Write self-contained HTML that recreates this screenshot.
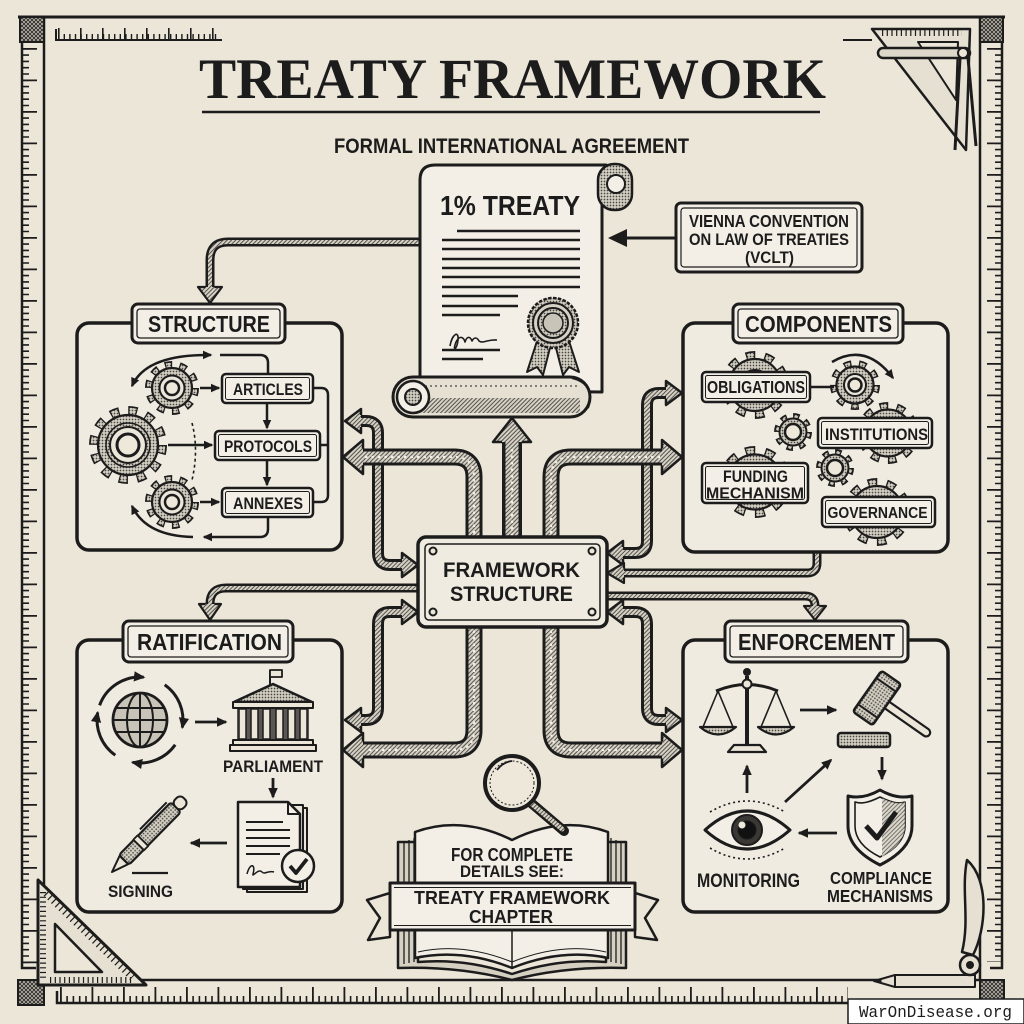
<!DOCTYPE html>
<html><head><meta charset="utf-8">
<style>
html,body{margin:0;padding:0;background:#ece6d8;}
svg{display:block;}
text{font-family:"Liberation Sans",Arial,sans-serif;font-weight:bold;fill:#1c1c1c;}
.k{stroke:#1c1c1c;fill:none;}
</style></head><body>
<svg width="1024" height="1024" viewBox="0 0 1024 1024" xmlns="http://www.w3.org/2000/svg">
<defs>
<pattern id="st" width="3" height="3" patternUnits="userSpaceOnUse"><rect width="3" height="3" fill="#d3cec2"/><circle cx="1.5" cy="1.5" r="0.85" fill="#4a4742"/></pattern>
<pattern id="hp" width="3" height="3" patternUnits="userSpaceOnUse" patternTransform="rotate(45)"><rect width="3" height="3" fill="#d6d1c5"/><rect width="1" height="3" fill="#55524c"/></pattern>
<pattern id="xh" width="4" height="4" patternUnits="userSpaceOnUse"><rect width="4" height="4" fill="#bdb7aa"/><path d="M0,4 L4,0 M0,0 L4,4" stroke="#2a2a2a" stroke-width="0.9"/></pattern>
<marker id="a" viewBox="0 0 10 10" refX="8.5" refY="5" markerWidth="3.8" markerHeight="3.8" orient="auto-start-reverse"><path d="M0,0.5 L10,5 L0,9.5 Z" fill="#1c1c1c"/></marker>

<g id="g26">
<circle r="23" fill="none" stroke="#1c1c1c" stroke-width="8" stroke-dasharray="7.226 7.226"/>
<circle r="23" fill="none" stroke="url(#st)" stroke-width="4.5" stroke-dasharray="4.726 9.726" stroke-dashoffset="-1.25"/>
<circle r="20" fill="url(#st)" stroke="#1c1c1c" stroke-width="2.2"/>
<circle r="12.5" fill="#ebe6da" stroke="#1c1c1c" stroke-width="2"/>
<circle r="7" fill="#eee8db" stroke="#1c1c1c" stroke-width="2.5"/>
</g>
<g id="g38">
<circle r="34" fill="none" stroke="#1c1c1c" stroke-width="10" stroke-dasharray="8.901 8.901"/>
<circle r="34" fill="none" stroke="url(#st)" stroke-width="6.5" stroke-dasharray="6.401 11.401" stroke-dashoffset="-1.25"/>
<circle r="30" fill="url(#st)" stroke="#1c1c1c" stroke-width="2.2"/>
<circle r="22" fill="none" stroke="#1c1c1c" stroke-width="1.5"/>
<circle r="18" fill="#ebe6da" stroke="#1c1c1c" stroke-width="2"/>
<circle r="11" fill="#eee8db" stroke="#1c1c1c" stroke-width="3"/>
</g>
<g id="g33">
<circle r="29.5" fill="none" stroke="#1c1c1c" stroke-width="9" stroke-dasharray="9.27 9.27"/>
<circle r="29.5" fill="none" stroke="url(#st)" stroke-width="5.5" stroke-dasharray="6.77 11.77" stroke-dashoffset="-1.25"/>
<circle r="26" fill="url(#st)" stroke="#1c1c1c" stroke-width="2.2"/>
<circle r="15" fill="#ebe6da" stroke="#1c1c1c" stroke-width="2"/>
<circle r="9" fill="#eee8db" stroke="#1c1c1c" stroke-width="2.5"/>
</g>
<g id="g24">
<circle r="21.25" fill="none" stroke="#1c1c1c" stroke-width="7.5" stroke-dasharray="7.418 7.418"/>
<circle r="21.25" fill="none" stroke="url(#st)" stroke-width="4" stroke-dasharray="4.918 9.918" stroke-dashoffset="-1.25"/>
<circle r="18.5" fill="url(#st)" stroke="#1c1c1c" stroke-width="2.2"/>
<circle r="11" fill="#ebe6da" stroke="#1c1c1c" stroke-width="2"/>
<circle r="6.5" fill="#eee8db" stroke="#1c1c1c" stroke-width="2.5"/>
</g>
<g id="g30">
<circle r="26.75" fill="none" stroke="#1c1c1c" stroke-width="8.5" stroke-dasharray="8.405 8.405"/>
<circle r="26.75" fill="none" stroke="url(#st)" stroke-width="5" stroke-dasharray="5.905 10.905" stroke-dashoffset="-1.25"/>
<circle r="23.5" fill="url(#st)" stroke="#1c1c1c" stroke-width="2.2"/>
<circle r="14" fill="#ebe6da" stroke="#1c1c1c" stroke-width="2"/>
<circle r="8" fill="#eee8db" stroke="#1c1c1c" stroke-width="2.5"/>
</g>
<g id="g18">
<circle r="15.75" fill="none" stroke="#1c1c1c" stroke-width="6.5" stroke-dasharray="6.185 6.185"/>
<circle r="15.75" fill="none" stroke="url(#st)" stroke-width="3" stroke-dasharray="3.685 8.685" stroke-dashoffset="-1.25"/>
<circle r="13.5" fill="url(#st)" stroke="#1c1c1c" stroke-width="2"/>
<circle r="8" fill="#eee8db" stroke="#1c1c1c" stroke-width="2.5"/>
</g>
<g id="g35">
<circle r="31.25" fill="none" stroke="#1c1c1c" stroke-width="9.5" stroke-dasharray="9.817 9.817"/>
<circle r="31.25" fill="none" stroke="url(#st)" stroke-width="6" stroke-dasharray="7.317 12.317" stroke-dashoffset="-1.25"/>
<circle r="27.5" fill="url(#st)" stroke="#1c1c1c" stroke-width="2.2"/>
<circle r="16" fill="#ebe6da" stroke="#1c1c1c" stroke-width="2"/>
<circle r="9" fill="#eee8db" stroke="#1c1c1c" stroke-width="2.5"/>
</g>
</defs>

<rect width="1024" height="1024" fill="#ece6d8"/>

<!-- FRAME -->
<g class="k">
<path d="M18,17 H1005" stroke-width="3"/>
<path d="M44,17 V981" stroke-width="2.5"/>
<path d="M980,17 V981" stroke-width="2.5"/>
<path d="M44,980 H980" stroke-width="2.5"/>
<path d="M22,42 V968 H36" stroke-width="2.5"/>
<path d="M25.5,48 V966" stroke-width="7" stroke-dasharray="1.6 4.7"/>
<path d="M29.5,48 V966" stroke-width="15" stroke-dasharray="1.8 29.7"/>
<path d="M1002,42 V968 H990" stroke-width="2.5"/>
<path d="M998.5,48 V962" stroke-width="7" stroke-dasharray="1.6 4.7"/>
<path d="M994.5,48 V962" stroke-width="15" stroke-dasharray="1.8 29.7"/>
<path d="M57,991 V1003 H850" stroke-width="2.5"/>
<path d="M60,999.5 H848" stroke-width="7" stroke-dasharray="1.6 4.7"/>
<path d="M60,995 H848" stroke-width="16" stroke-dasharray="1.8 29.7"/>
<path d="M56,29 V40 H222" stroke-width="2"/>
<path d="M58,37 H220" stroke-width="6" stroke-dasharray="1.4 4.2"/>
<path d="M58,34 H220" stroke-width="12" stroke-dasharray="1.6 20.4"/>
<path d="M843,40 H872" stroke-width="2"/>
</g>
<rect x="20" y="17" width="24" height="25" fill="url(#xh)" stroke="#1c1c1c" stroke-width="2"/>
<rect x="980" y="17" width="23" height="25" fill="url(#xh)" stroke="#1c1c1c" stroke-width="2"/>
<rect x="18" y="980" width="26" height="25" fill="url(#xh)" stroke="#1c1c1c" stroke-width="2"/>
<rect x="980" y="980" width="24" height="22" fill="url(#xh)" stroke="#1c1c1c" stroke-width="2"/>

<!-- top-right set square + compass -->
<g stroke="#1c1c1c" stroke-linejoin="round">
<polygon points="872,29 970,29 966,150" fill="#e6e0d2" stroke-width="2.5"/>
<polygon points="918,42 958,42 956,100" fill="#ece6d8" stroke-width="2"/>
<path d="M882,33 H962" stroke-width="6" stroke-dasharray="1.2 3.5" fill="none"/>
<path d="M960,58 L955,150" stroke-width="3" fill="none"/>
<path d="M968,58 L976,146" stroke-width="3" fill="none"/>
<rect x="878" y="48" width="92" height="10" rx="5" fill="#ddd7ca" stroke-width="2.5"/>
<circle cx="963" cy="53" r="5" fill="#ece6d8" stroke-width="2"/>
</g>

<!-- bottom-left set square -->
<g stroke="#1c1c1c" stroke-linejoin="round">
<polygon points="38,880 38,985 146,985" fill="#e6e0d2" stroke-width="3"/>
<polygon points="55,924 55,972 102,972" fill="#ece6d8" stroke-width="2.5"/>
<path d="M43,892 V978" stroke-width="6" stroke-dasharray="1.2 3.5" fill="none"/>
<path d="M50,980 H132" stroke-width="6" stroke-dasharray="1.2 3.5" fill="none"/>
<path d="M46,893.4 L132.4,977.4" stroke-width="7" stroke-dasharray="1.2 4" fill="none"/>
</g>

<!-- bottom-right compass -->
<g stroke="#1c1c1c" stroke-linejoin="round">
<path d="M967,860 C990,880 986,930 973,955 L962,952 C970,920 961,890 967,860 Z" fill="#e6e0d2" stroke-width="2.5"/>
<polygon points="874,981 895,975 895,987" fill="#e6e0d2" stroke-width="2"/>
<polygon points="874,981 881,979 881,983" fill="#1c1c1c" stroke-width="1"/>
<rect x="895" y="975" width="80" height="12" fill="#e6e0d2" stroke-width="2"/>
<circle cx="970" cy="965" r="10" fill="#e6e0d2" stroke-width="2.5"/>
<circle cx="970" cy="965" r="3.5" fill="#1c1c1c"/>
</g>

<!-- TITLE -->
<text x="512.5" y="98" font-size="57" text-anchor="middle" textLength="627" lengthAdjust="spacingAndGlyphs" style="font-family:'Liberation Serif',serif">TREATY FRAMEWORK</text>
<path d="M202,112 H820" class="k" stroke-width="2.5"/>
<text x="511.5" y="153" font-size="21" text-anchor="middle" textLength="355" lengthAdjust="spacingAndGlyphs">FORMAL INTERNATIONAL AGREEMENT</text>

<!-- INNER PIPES -->
<g fill="none">
<path d="M361,421 H366 Q378,421 378,433 V553 Q378,565 390,565 H402" stroke="#1c1c1c" stroke-width="12"/>
<path d="M361,421 H366 Q378,421 378,433 V553 Q378,565 390,565 H402" stroke="url(#hp)" stroke-width="6"/>
<path d="M402,612 H390 Q378,612 378,624 V708 Q378,720 366,720 H361" stroke="#1c1c1c" stroke-width="12"/>
<path d="M402,612 H390 Q378,612 378,624 V708 Q378,720 366,720 H361" stroke="url(#hp)" stroke-width="6"/>
<path d="M623,553 H635 Q647,553 647,541 V405 Q647,393 659,393 H666" stroke="#1c1c1c" stroke-width="12"/>
<path d="M623,553 H635 Q647,553 647,541 V405 Q647,393 659,393 H666" stroke="url(#hp)" stroke-width="6"/>
<path d="M623,612 H635 Q647,612 647,624 V708 Q647,720 659,720 H666" stroke="#1c1c1c" stroke-width="12"/>
<path d="M623,612 H635 Q647,612 647,624 V708 Q647,720 659,720 H666" stroke="url(#hp)" stroke-width="6"/>
</g>
<g stroke="#1c1c1c" stroke-width="2.5" stroke-linejoin="round">
<polygon points="361,409 345,421 361,433" fill="url(#hp)" stroke="none"/><polyline points="361,415 361,409 345,421 361,433 361,427" fill="none"/>
<polygon points="402,553 418,565 402,577" fill="url(#hp)" stroke="none"/><polyline points="402,559 402,553 418,565 402,577 402,571" fill="none"/>
<polygon points="402,600 418,612 402,624" fill="url(#hp)" stroke="none"/><polyline points="402,606 402,600 418,612 402,624 402,618" fill="none"/>
<polygon points="361,708 345,720 361,732" fill="url(#hp)" stroke="none"/><polyline points="361,714 361,708 345,720 361,732 361,726" fill="none"/>
<polygon points="623,541 607,553 623,565" fill="url(#hp)" stroke="none"/><polyline points="623,547 623,541 607,553 623,565 623,559" fill="none"/>
<polygon points="666,381 682,393 666,405" fill="url(#hp)" stroke="none"/><polyline points="666,387 666,381 682,393 666,405 666,399" fill="none"/>
<polygon points="623,600 607,612 623,624" fill="url(#hp)" stroke="none"/><polyline points="623,606 623,600 607,612 623,624 623,618" fill="none"/>
<polygon points="666,708 682,720 666,732" fill="url(#hp)" stroke="none"/><polyline points="666,714 666,708 682,720 666,732 666,726" fill="none"/>
</g>

<!-- OUTER PIPES -->
<g fill="none">
<path d="M474,540 V477 Q474,457 454,457 H363" stroke="#1c1c1c" stroke-width="17"/>
<path d="M474,540 V477 Q474,457 454,457 H363" stroke="url(#hp)" stroke-width="11"/>
<path d="M474,540 V477 Q474,457 454,457 H365" stroke="#f2eee6" stroke-width="2.2" stroke-dasharray="2.5 4"/>
<path d="M551,540 V477 Q551,457 571,457 H662" stroke="#1c1c1c" stroke-width="17"/>
<path d="M551,540 V477 Q551,457 571,457 H662" stroke="url(#hp)" stroke-width="11"/>
<path d="M551,540 V477 Q551,457 571,457 H660" stroke="#f2eee6" stroke-width="2.2" stroke-dasharray="2.5 4"/>
<path d="M474,624 V730 Q474,750 454,750 H363" stroke="#1c1c1c" stroke-width="17"/>
<path d="M474,624 V730 Q474,750 454,750 H363" stroke="url(#hp)" stroke-width="11"/>
<path d="M474,624 V730 Q474,750 454,750 H365" stroke="#f2eee6" stroke-width="2.2" stroke-dasharray="2.5 4"/>
<path d="M551,624 V730 Q551,750 571,750 H662" stroke="#1c1c1c" stroke-width="17"/>
<path d="M551,624 V730 Q551,750 571,750 H662" stroke="url(#hp)" stroke-width="11"/>
<path d="M551,624 V730 Q551,750 571,750 H660" stroke="#f2eee6" stroke-width="2.2" stroke-dasharray="2.5 4"/>
<path d="M512,540 V442" stroke="#1c1c1c" stroke-width="20"/>
<path d="M512,540 V442" stroke="url(#hp)" stroke-width="13"/>
<path d="M512,536 V446" stroke="#f2eee6" stroke-width="2.4" stroke-dasharray="2.5 4"/>
</g>
<g stroke="#1c1c1c" stroke-width="2.5" stroke-linejoin="round">
<polygon points="363,440 343,457 363,474" fill="url(#hp)" stroke="none"/><polyline points="363,448.5 363,440 343,457 363,474 363,465.5" fill="none"/>
<polygon points="662,440 682,457 662,474" fill="url(#hp)" stroke="none"/><polyline points="662,448.5 662,440 682,457 662,474 662,465.5" fill="none"/>
<polygon points="363,733 343,750 363,767" fill="url(#hp)" stroke="none"/><polyline points="363,741.5 363,733 343,750 363,767 363,758.5" fill="none"/>
<polygon points="662,733 682,750 662,767" fill="url(#hp)" stroke="none"/><polyline points="662,741.5 662,733 682,750 662,767 662,758.5" fill="none"/>
<polygon points="493,442 512,418 531,442" fill="url(#hp)" stroke="none"/><polyline points="502,442 493,442 512,418 531,442 522,442" fill="none"/>
</g>

<!-- CONNECTOR BANDS -->
<g fill="none">
<path d="M420,242 H228 Q210,242 210,260 V287" stroke="#1c1c1c" stroke-width="9"/>
<path d="M420,242 H228 Q210,242 210,260 V287" stroke="url(#hp)" stroke-width="4"/>
<path d="M418,588 H226 Q210,588 210,604" stroke="#1c1c1c" stroke-width="9"/>
<path d="M418,588 H226 Q210,588 210,604" stroke="url(#hp)" stroke-width="4"/>
<path d="M607,596 H805 Q815,596 815,606" stroke="#1c1c1c" stroke-width="9"/>
<path d="M607,596 H805 Q815,596 815,606" stroke="url(#hp)" stroke-width="4"/>
<path d="M817,552 V563 Q817,573 807,573 H624" stroke="#1c1c1c" stroke-width="9"/>
<path d="M817,552 V563 Q817,573 807,573 H624" stroke="url(#hp)" stroke-width="4"/>
</g>
<g stroke="#1c1c1c" stroke-width="2.2" stroke-linejoin="round">
<polygon points="198,287 210,303 222,287" fill="url(#hp)" stroke="none"/><polyline points="205.5,287 198,287 210,303 222,287 214.5,287" fill="none"/>
<polygon points="199,604 210,620 221,604" fill="url(#hp)" stroke="none"/><polyline points="205.5,604 199,604 210,620 221,604 214.5,604" fill="none"/>
<polygon points="804,606 815,620 826,606" fill="url(#hp)" stroke="none"/><polyline points="810.5,606 804,606 815,620 826,606 819.5,606" fill="none"/>
<polygon points="624,563 607,573 624,583" fill="url(#hp)" stroke="none"/><polyline points="624,568.5 624,563 607,573 624,583 624,577.5" fill="none"/>
</g>

<!-- PANELS -->
<g stroke="#1c1c1c" stroke-width="3.5" fill="#f0ebe1">
<rect x="77" y="323" width="265" height="227" rx="12"/>
<rect x="683" y="323" width="265" height="229" rx="12"/>
<rect x="77" y="640" width="265" height="272" rx="12"/>
<rect x="683" y="640" width="265" height="272" rx="12"/>
</g>
<!-- tabs -->
<g stroke="#1c1c1c" fill="#f3efe7">
<rect x="132" y="304" width="153" height="39" rx="6" stroke-width="3"/>
<rect x="137" y="309" width="143" height="29" rx="3" stroke-width="1.3" fill="none"/>
<rect x="733" y="304" width="170" height="39" rx="6" stroke-width="3"/>
<rect x="738" y="309" width="160" height="29" rx="3" stroke-width="1.3" fill="none"/>
<rect x="123" y="621" width="170" height="41" rx="6" stroke-width="3"/>
<rect x="128" y="626" width="160" height="31" rx="3" stroke-width="1.3" fill="none"/>
<rect x="725" y="621" width="183" height="41" rx="6" stroke-width="3"/>
<rect x="730" y="626" width="173" height="31" rx="3" stroke-width="1.3" fill="none"/>
</g>
<text x="209" y="332" font-size="23" text-anchor="middle" textLength="122" lengthAdjust="spacingAndGlyphs">STRUCTURE</text>
<text x="818.5" y="332" font-size="23" text-anchor="middle" textLength="147" lengthAdjust="spacingAndGlyphs">COMPONENTS</text>
<text x="209.5" y="650" font-size="23" text-anchor="middle" textLength="145" lengthAdjust="spacingAndGlyphs">RATIFICATION</text>
<text x="816.5" y="650" font-size="23" text-anchor="middle" textLength="157" lengthAdjust="spacingAndGlyphs">ENFORCEMENT</text>

<!-- STRUCTURE CONTENT -->
<use href="#g26" x="172" y="388"/>
<use href="#g38" x="128" y="445"/>
<use href="#g26" x="172" y="502"/>
<path d="M192,423 Q199,450 192,480" class="k" stroke-width="1.6" stroke-dasharray="3 3"/>
<g class="k" stroke-width="2.5">
<path d="M200,388 H219" marker-end="url(#a)"/>
<path d="M168,445 H212" marker-end="url(#a)"/>
<path d="M200,502 H219" marker-end="url(#a)"/>
<path d="M267,403 V428" marker-end="url(#a)"/>
<path d="M267,460 V485" marker-end="url(#a)"/>
<path d="M313,388 H321 Q328,388 328,395 V495 Q328,502 321,502 H313"/>
<path d="M320,445 H328"/>
<path d="M132,386 Q146,354 211,355" marker-start="url(#a)" marker-end="url(#a)"/>
<path d="M220,355 H260 Q268,355 268,363 V374"/>
<path d="M268,517 V529 Q268,537 260,537 H204" marker-end="url(#a)"/>
<path d="M193,537 Q146,536 132,506" marker-end="url(#a)"/>
</g>
<g stroke="#1c1c1c" fill="#f3efe7">
<rect x="222" y="374" width="91" height="29" rx="4" stroke-width="2.5"/>
<rect x="225.5" y="377.5" width="84" height="22" rx="2" stroke-width="1" fill="none"/>
<rect x="215" y="431" width="105" height="29" rx="4" stroke-width="2.5"/>
<rect x="218.5" y="434.5" width="98" height="22" rx="2" stroke-width="1" fill="none"/>
<rect x="222" y="488" width="91" height="29" rx="4" stroke-width="2.5"/>
<rect x="225.5" y="491.5" width="84" height="22" rx="2" stroke-width="1" fill="none"/>
</g>
<text x="268" y="395" font-size="16.5" text-anchor="middle" textLength="70" lengthAdjust="spacingAndGlyphs">ARTICLES</text>
<text x="268" y="452" font-size="16.5" text-anchor="middle" textLength="88" lengthAdjust="spacingAndGlyphs">PROTOCOLS</text>
<text x="268" y="509" font-size="16.5" text-anchor="middle" textLength="70" lengthAdjust="spacingAndGlyphs">ANNEXES</text>

<!-- COMPONENTS CONTENT -->
<use href="#g33" x="755" y="385"/>
<use href="#g24" x="855" y="385"/>
<use href="#g30" x="888" y="433"/>
<use href="#g18" x="793" y="432"/>
<use href="#g35" x="755" y="482"/>
<use href="#g18" x="835" y="468"/>
<use href="#g33" x="877" y="512"/>
<path d="M810,387 H834" class="k" stroke-width="2.5"/>
<path d="M832,362 Q866,342 893,378" class="k" stroke-width="2.5" marker-end="url(#a)"/>
<g stroke="#1c1c1c" fill="#f3efe7">
<rect x="702" y="372" width="108" height="30" rx="4" stroke-width="2.5"/>
<rect x="705.5" y="375.5" width="101" height="23" rx="2" stroke-width="1" fill="none"/>
<rect x="818" y="418" width="114" height="30" rx="4" stroke-width="2.5"/>
<rect x="821.5" y="421.5" width="107" height="23" rx="2" stroke-width="1" fill="none"/>
<rect x="702" y="463" width="106" height="40" rx="4" stroke-width="2.5"/>
<rect x="705.5" y="466.5" width="99" height="33" rx="2" stroke-width="1" fill="none"/>
<rect x="822" y="497" width="113" height="30" rx="4" stroke-width="2.5"/>
<rect x="825.5" y="500.5" width="106" height="23" rx="2" stroke-width="1" fill="none"/>
</g>
<text x="756" y="393" font-size="17.5" text-anchor="middle" textLength="98" lengthAdjust="spacingAndGlyphs">OBLIGATIONS</text>
<text x="876.5" y="440" font-size="17" text-anchor="middle" textLength="103" lengthAdjust="spacingAndGlyphs">INSTITUTIONS</text>
<text x="755.5" y="482" font-size="17" text-anchor="middle" textLength="65" lengthAdjust="spacingAndGlyphs">FUNDING</text>
<text x="755" y="498.5" font-size="16" text-anchor="middle" textLength="98" lengthAdjust="spacingAndGlyphs">MECHANISM</text>
<text x="877.5" y="518" font-size="16" text-anchor="middle" textLength="100" lengthAdjust="spacingAndGlyphs">GOVERNANCE</text>

<!-- RATIFICATION CONTENT -->
<g stroke="#1c1c1c" stroke-linejoin="round">
<circle cx="140" cy="720" r="27" fill="#c9c4b8" stroke-width="2.8"/>
<ellipse cx="140" cy="720" rx="13" ry="27" fill="none" stroke-width="2"/>
<path d="M140,693 V747 M113,720 H167 M116,708 H164 M116,732 H164" fill="none" stroke-width="2"/>
<g fill="none" stroke-width="3">
<path d="M99.6,705.3 A43,43 0 0 1 143.7,677.2" marker-end="url(#a)"/>
<path d="M164.7,684.8 A43,43 0 0 1 182.3,727.5" marker-end="url(#a)"/>
<path d="M175.2,744.7 A43,43 0 0 1 132.5,762.3" marker-end="url(#a)"/>
<path d="M115.3,755.2 A43,43 0 0 1 97.7,712.5" marker-end="url(#a)"/>
</g>
<path d="M195,722 H226" fill="none" stroke-width="2.8" marker-end="url(#a)"/>
<!-- parliament -->
<path d="M270,670 V685" fill="none" stroke-width="2"/>
<rect x="270" y="670" width="12" height="7" fill="#ece6d8" stroke-width="1.8"/>
<rect x="237" y="708" width="72" height="32" fill="#5a5752" stroke="none"/>
<polygon points="234,702 273,684 312,702" fill="url(#st)" stroke-width="2.5"/>
<rect x="233" y="702" width="80" height="6" fill="#ece6d8" stroke-width="2"/>
<g fill="#ece6d8" stroke-width="1.5">
<rect x="239" y="709" width="7" height="30"/><rect x="251" y="709" width="7" height="30"/><rect x="263" y="709" width="7" height="30"/>
<rect x="276" y="709" width="7" height="30"/><rect x="288" y="709" width="7" height="30"/><rect x="300" y="709" width="7" height="30"/>
</g>
<rect x="233" y="740" width="80" height="5" fill="#ece6d8" stroke-width="2"/>
<rect x="230" y="745" width="86" height="6" fill="#ece6d8" stroke-width="2"/>
<path d="M273,778 V797" fill="none" stroke-width="2.8" marker-end="url(#a)"/>
<!-- document -->
<rect x="247" y="808" width="60" height="84" fill="#ece6d8" stroke-width="2"/>
<rect x="243" y="805" width="60" height="84" fill="#ece6d8" stroke-width="2"/>
<path d="M238,802 H288 L300,814 V887 H238 Z" fill="#f3efe7" stroke-width="2.5"/>
<path d="M288,802 V814 H300" fill="none" stroke-width="2"/>
<path d="M246,822 H283 M246,830 H290 M246,838 H290 M246,846 H290 M246,854 H280" fill="none" stroke-width="2"/>
<path d="M247,874 C250,862 256,864 253,874 C252,878 258,868 262,872 C265,875 268,870 274,872" fill="none" stroke-width="1.5"/>
<circle cx="298" cy="866" r="16" fill="#f3efe7" stroke-width="2.5"/>
<path d="M290,866 L296,873 L307,859" fill="none" stroke-width="3.8"/>
<path d="M227,843 H191" fill="none" stroke-width="2.8" marker-end="url(#a)"/>
<!-- pen -->
<g transform="translate(112,872) rotate(-45.4)">
<polygon points="0,0 17,-6 17,6" fill="#ece6d8" stroke-width="2"/>
<rect x="17" y="-7" width="74" height="14" rx="3" fill="url(#st)" stroke-width="2.2"/>
<rect x="38" y="-7.5" width="6" height="15" fill="#ece6d8" stroke-width="1.8"/>
<rect x="91" y="-6" width="12" height="12" rx="5" fill="#ece6d8" stroke-width="2"/>
<path d="M50,-10 H88" fill="none" stroke-width="2"/>
</g>
<path d="M132,873 H168" fill="none" stroke-width="2.2"/>
</g>
<text x="273" y="772" font-size="17" text-anchor="middle" textLength="100" lengthAdjust="spacingAndGlyphs">PARLIAMENT</text>
<text x="140.5" y="897" font-size="17" text-anchor="middle" textLength="65" lengthAdjust="spacingAndGlyphs">SIGNING</text>

<!-- ENFORCEMENT CONTENT -->
<g stroke="#1c1c1c" stroke-linejoin="round">
<path d="M747,676 V746" fill="none" stroke-width="4"/>
<circle cx="747" cy="672" r="3.5" fill="#1c1c1c"/>
<path d="M716,691 Q747,678 778,691" fill="none" stroke-width="3"/>
<circle cx="747" cy="684" r="4.5" fill="#ece6d8" stroke-width="2"/>
<path d="M718,691 L703,727 M718,691 L733,727 M776,691 L761,727 M776,691 L791,727" fill="none" stroke-width="1.6"/>
<path d="M700,727 Q718,742 736,727 Z" fill="url(#st)" stroke-width="2.2"/>
<path d="M758,727 Q776,742 794,727 Z" fill="url(#st)" stroke-width="2.2"/>
<path d="M734,745 L760,745 L766,752 L728,752 Z" fill="#ece6d8" stroke-width="2.2"/>
<path d="M800,710 H836" fill="none" stroke-width="2.8" marker-end="url(#a)"/>
<g transform="translate(877,698) rotate(35)">
<rect x="8" y="-4" width="56" height="8" rx="4" fill="#ece6d8" stroke-width="2.2"/>
<rect x="-12" y="-25" width="24" height="50" rx="3" fill="url(#st)" stroke-width="2.5"/>
<path d="M-12,-16 H12 M-12,16 H12" fill="none" stroke-width="2"/>
</g>
<rect x="838" y="733" width="52" height="14" rx="3" fill="url(#st)" stroke-width="2.5"/>
<path d="M882,757 V779" fill="none" stroke-width="2.8" marker-end="url(#a)"/>
<path d="M880,790 C866,798 856,798 848,796 L848,826 C848,845 864,857 880,865 C896,857 912,845 912,826 L912,796 C904,798 894,798 880,790 Z" fill="#f3efe7" stroke-width="3"/>
<path d="M880,797 C868,803 861,804 855,802 L855,826 C855,841 868,851 880,857 C892,851 905,841 905,826 L905,802 C899,804 892,803 880,797 Z" fill="none" stroke-width="1.6"/>
<path d="M882,798 C892,803 899,804 905,802 L905,826 C905,841 892,851 882,857 Z" fill="url(#hp)" stroke="none" opacity="0.8"/>
<path d="M866,826 L877,838 L896,812" fill="none" stroke-width="5"/>
<path d="M837,833 H799" fill="none" stroke-width="2.8" marker-end="url(#a)"/>
<path d="M705,830 Q747,792 790,830 Q747,868 705,830 Z" fill="#f3efe7" stroke-width="3"/>
<circle cx="747" cy="830" r="15" fill="#3a3835" stroke-width="2"/>
<circle cx="747" cy="830" r="9" fill="#111"/>
<circle cx="742" cy="825" r="3.5" fill="#eee8db" stroke="none"/>
<path d="M710,812 Q747,790 785,812 M710,848 Q747,870 785,848" fill="none" stroke-width="1.6" stroke-dasharray="2 3"/>
<path d="M747,793 V766" fill="none" stroke-width="2.8" marker-end="url(#a)"/>
<path d="M785,802 L831,760" fill="none" stroke-width="2.8" marker-end="url(#a)"/>
</g>
<text x="748.5" y="887" font-size="19" text-anchor="middle" textLength="103" lengthAdjust="spacingAndGlyphs">MONITORING</text>
<text x="881" y="884" font-size="17.5" text-anchor="middle" textLength="102" lengthAdjust="spacingAndGlyphs">COMPLIANCE</text>
<text x="880" y="902" font-size="17.5" text-anchor="middle" textLength="106" lengthAdjust="spacingAndGlyphs">MECHANISMS</text>

<!-- FRAMEWORK STRUCTURE BOX -->
<g stroke="#1c1c1c">
<rect x="418" y="537" width="189" height="90" rx="8" fill="#f0ebe1" stroke-width="3.5"/>
<rect x="425" y="544" width="175" height="76" rx="4" fill="none" stroke-width="1.5"/>
<g fill="#ece6d8" stroke-width="2"><circle cx="433" cy="551" r="3.5"/><circle cx="592" cy="551" r="3.5"/><circle cx="433" cy="612" r="3.5"/><circle cx="592" cy="612" r="3.5"/></g>
</g>
<text x="511.5" y="577" font-size="21" text-anchor="middle" textLength="137" lengthAdjust="spacingAndGlyphs">FRAMEWORK</text>
<text x="511.5" y="601" font-size="21.5" text-anchor="middle" textLength="123" lengthAdjust="spacingAndGlyphs">STRUCTURE</text>

<!-- SCROLL -->
<g stroke="#1c1c1c" stroke-linejoin="round">
<path d="M420,390 V180 Q420,165 435,165 H606 L602,200 V392 Z" fill="#f3efe7" stroke-width="3"/>
<rect x="598" y="164" width="34" height="46" rx="16" fill="url(#st)" stroke-width="2.5"/>
<circle cx="616" cy="184" r="9" fill="#f3efe7" stroke-width="2"/>
<g fill="none" stroke-width="2.6">
<path d="M457,231 H580 M442,240 H580 M442,249 H580 M442,259 H580 M442,268 H580 M442,277 H580 M442,287 H580 M442,296 H518 M442,306 H518 M442,315 H500 M442,350 H500 M442,359 H483"/>
</g>
<path d="M450,346 C452,334 459,330 458,340 C457,350 452,352 456,342 C460,334 464,338 465,342 C467,336 470,336 472,341 C474,337 477,337 479,341 C483,344 488,339 497,340" fill="none" stroke-width="1.6"/>
<polygon points="538,338 527,372 537,367 543,375 551,344" fill="url(#st)" stroke-width="2"/>
<polygon points="568,338 579,372 569,367 563,375 555,344" fill="url(#st)" stroke-width="2"/>
<circle cx="553" cy="323" r="25" fill="url(#st)" stroke-width="2.5" stroke-dasharray="3.5 1.4"/>
<circle cx="553" cy="323" r="20" fill="#d6d1c5" stroke-width="2"/>
<circle cx="553" cy="323" r="15" fill="url(#st)" stroke-width="2"/>
<circle cx="553" cy="323" r="10" fill="#c9c4b8" stroke-width="1.5"/>
<rect x="393" y="377" width="197" height="40" rx="20" fill="#e6e0d3" stroke-width="3"/>
<rect x="420" y="398" width="160" height="15" fill="url(#hp)" stroke="none"/>
<path d="M420,386 H580" fill="none" stroke-width="1" stroke-dasharray="2 3"/>
<circle cx="413" cy="397" r="16" fill="#f3efe7" stroke-width="2.5"/>
<circle cx="413" cy="397" r="8" fill="url(#st)" stroke-width="2"/>
<path d="M572,378 Q596,384 588,408" fill="none" stroke-width="2"/>
</g>
<text x="510" y="215" font-size="28" text-anchor="middle" textLength="140" lengthAdjust="spacingAndGlyphs">1% TREATY</text>

<!-- VCLT -->
<g stroke="#1c1c1c">
<rect x="676" y="203" width="186" height="69" rx="5" fill="#f3efe7" stroke-width="3"/>
<rect x="681" y="208" width="176" height="59" rx="3" fill="none" stroke-width="1.2"/>
<path d="M676,238 H626" stroke-width="3" fill="none"/>
<polygon points="608,238 627,229 627,247" fill="#1c1c1c" stroke="none"/>
</g>
<text x="769" y="227" font-size="17.5" text-anchor="middle" textLength="160" lengthAdjust="spacingAndGlyphs">VIENNA CONVENTION</text>
<text x="769" y="245" font-size="17" text-anchor="middle" textLength="160" lengthAdjust="spacingAndGlyphs">ON LAW OF TREATIES</text>
<text x="769.5" y="263" font-size="17" text-anchor="middle" textLength="49" lengthAdjust="spacingAndGlyphs">(VCLT)</text>

<!-- BOOK -->
<g stroke="#1c1c1c" stroke-linejoin="round">
<path d="M398,842 H418 V962 Q465,958 512,974 Q559,958 606,962 V842 H626 V968 Q566,966 512,980 Q458,966 398,968 Z" fill="#d6d0c3" stroke-width="2.5"/>
<path d="M404,842 V964 M409,840 V963 M414,838 V962 M611,838 V962 M616,840 V963 M621,842 V964" fill="none" stroke-width="1.3"/>
<path d="M415,832 Q462,815 512,840 Q562,815 608,832 V958 Q562,948 512,968 Q462,948 415,958 Z" fill="#f3efe7" stroke-width="2.5"/>
<path d="M512,930 V968" fill="none" stroke-width="1.5"/>
<path d="M418,952 Q462,942 512,962 Q562,942 606,952" fill="none" stroke-width="1"/>
<polygon points="390,893 367,900 380,918 368,940 390,937" fill="#ece6d8" stroke-width="2.5"/>
<polygon points="635,893 658,900 645,918 657,940 635,937" fill="#ece6d8" stroke-width="2.5"/>
<rect x="390" y="883" width="245" height="47" fill="#f3efe7" stroke-width="3"/>
<path d="M394,887.5 H631 M394,925.5 H631" fill="none" stroke-width="1"/>
<path d="M530,802 L564,831" fill="none" stroke-width="10" stroke-linecap="round"/>
<path d="M532,804 L562,829" fill="none" stroke="url(#hp)" stroke-width="5" stroke-linecap="round"/>
<circle cx="512" cy="783" r="27" fill="#eee8db" stroke-width="4"/>
<circle cx="512" cy="783" r="22" fill="none" stroke-width="1" stroke-dasharray="2 2"/>
<path d="M497,770 Q503,762 512,761" fill="none" stroke-width="1.8"/>
</g>
<text x="512" y="861" font-size="18" text-anchor="middle" textLength="122" lengthAdjust="spacingAndGlyphs">FOR COMPLETE</text>
<text x="512" y="877" font-size="17" text-anchor="middle" textLength="104" lengthAdjust="spacingAndGlyphs">DETAILS SEE:</text>
<text x="512" y="904" font-size="18.5" text-anchor="middle" textLength="196" lengthAdjust="spacingAndGlyphs">TREATY FRAMEWORK</text>
<text x="511" y="923" font-size="18.5" text-anchor="middle" textLength="84" lengthAdjust="spacingAndGlyphs">CHAPTER</text>

<!-- WATERMARK -->
<rect x="848" y="999" width="176" height="25" fill="#ffffff" stroke="#1c1c1c" stroke-width="1.5"/>
<text x="935.5" y="1017" font-size="16.5" text-anchor="middle" textLength="153" lengthAdjust="spacingAndGlyphs" style="font-family:'Liberation Mono',monospace;font-weight:normal">WarOnDisease.org</text>
</svg>
</body></html>
